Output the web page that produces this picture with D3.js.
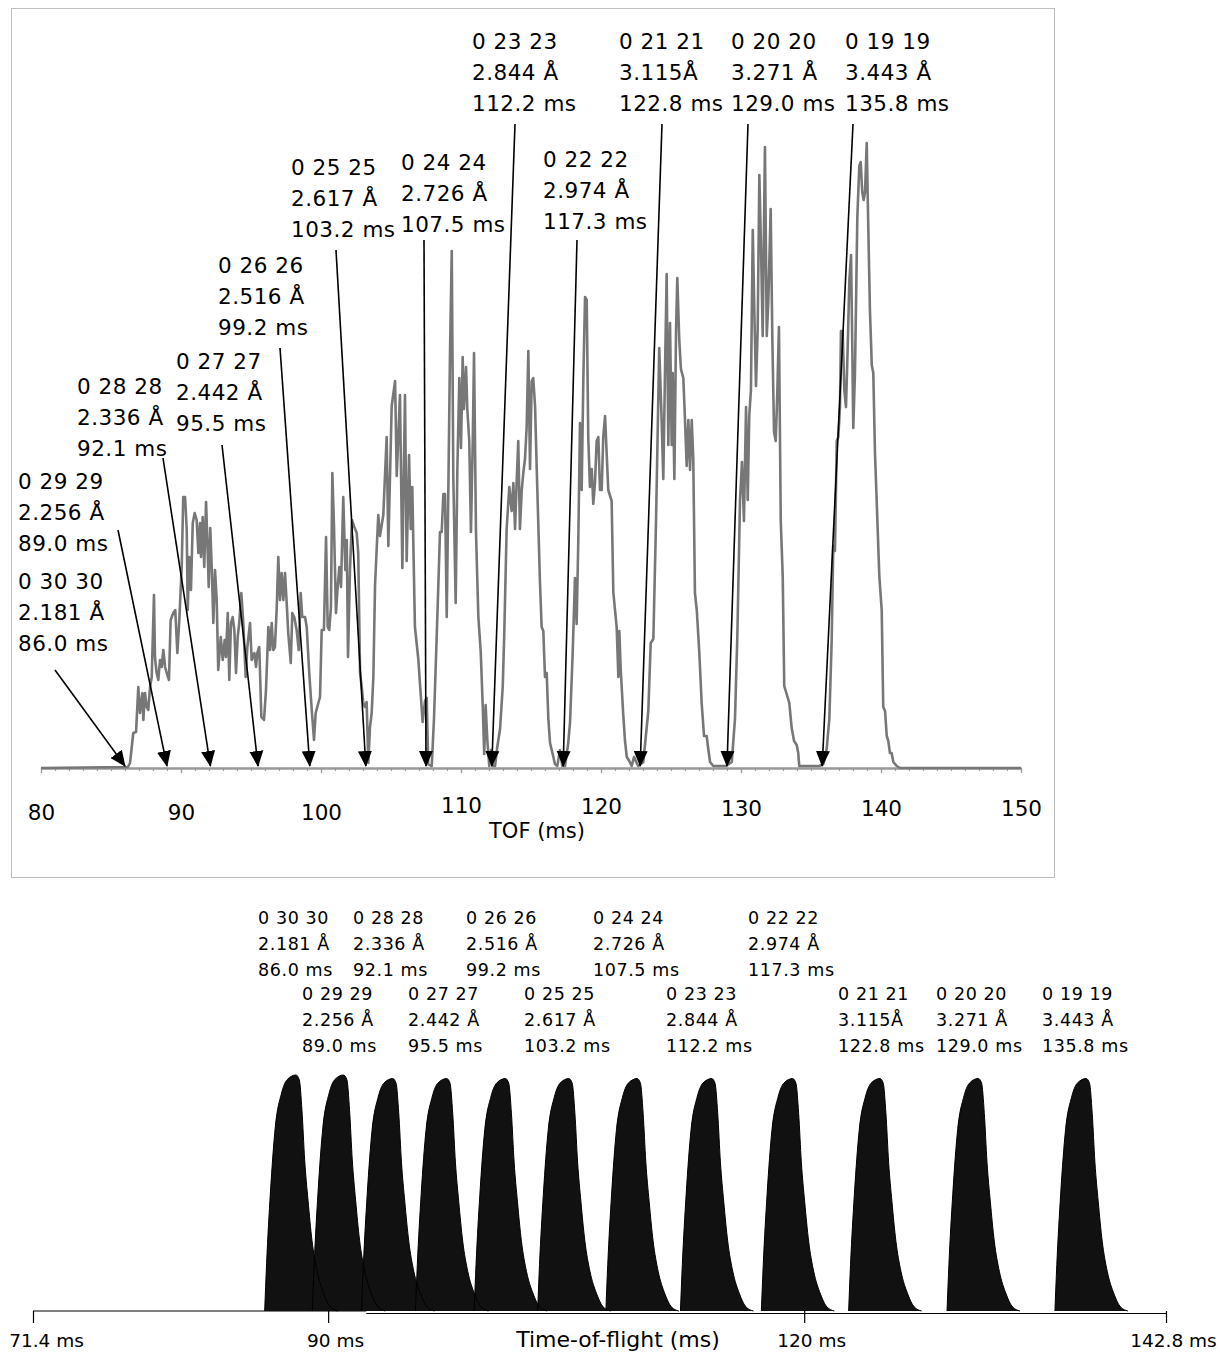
<!DOCTYPE html>
<html>
<head>
<meta charset="utf-8">
<script src="https://cdn.jsdelivr.net/npm/d3@7"></script>
<style>
  html, body { margin: 0; padding: 0; background: #fff; }
  svg { display: block; }
  text { font-family: "DejaVu Sans", "Noto Sans", sans-serif; fill: #000; }
</style>
</head>
<body>
<svg id="chart" width="1220" height="1354"></svg>
<script>
// ---------------- DATA ----------------
const hklLabels = ["0 30 30","0 29 29","0 28 28","0 27 27","0 26 26","0 25 25","0 24 24","0 23 23","0 22 22","0 21 21","0 20 20","0 19 19"];
const dSpacings = ["2.181 Å","2.256 Å","2.336 Å","2.442 Å","2.516 Å","2.617 Å","2.726 Å","2.844 Å","2.974 Å","3.115Å","3.271 Å","3.443 Å"];
const tofPeaks  = [86.0, 89.0, 92.1, 95.5, 99.2, 103.2, 107.5, 112.2, 117.3, 122.8, 129.0, 135.8];

// Top panel: measured TOF trace (ms) and counts (arb. units)
const traceTof = [80.00,86.21,86.36,86.59,86.79,86.95,87.07,87.24,87.31,87.43,87.55,87.66,87.79,87.91,88.07,88.14,88.26,88.38,88.50,88.62,88.74,88.86,88.98,89.14,89.26,89.45,89.59,89.74,89.88,90.05,90.16,90.29,90.41,90.48,90.59,90.71,90.84,90.98,91.12,91.24,91.36,91.43,91.55,91.66,91.79,91.88,91.98,92.09,92.21,92.31,92.43,92.55,92.66,92.84,92.98,93.12,93.21,93.34,93.45,93.57,93.69,93.81,93.93,94.05,94.16,94.31,94.45,94.62,94.74,94.93,95.05,95.24,95.36,95.45,95.59,95.74,95.93,96.07,96.24,
96.36,96.48,96.59,96.71,96.84,96.95,97.07,97.19,97.31,97.43,97.55,97.66,97.84,97.95,98.09,98.26,98.41,98.55,98.66,98.86,98.98,99.16,99.34,99.50,99.62,99.81,99.93,100.05,100.21,100.36,100.48,100.59,100.71,100.81,100.93,101.07,101.19,101.31,101.43,101.59,101.74,101.84,101.93,102.07,102.21,102.38,102.55,102.66,102.79,102.91,103.02,103.14,103.26,103.38,103.50,103.62,103.74,
103.86,104.09,104.21,104.45,104.69,104.81,105.05,105.29,105.41,105.64,105.81,106.00,106.12,106.29,106.41,106.52,106.71,106.95,107.07,107.26,107.43,107.55,107.66,107.91,108.07,108.31,108.50,108.62,108.74,108.86,108.98,109.09,109.21,109.34,109.45,109.62,109.74,109.88,110.00,110.12,110.21,110.36,110.45,110.59,110.71,110.84,110.93,111.07,111.24,111.41,111.55,111.66,111.76,111.88,112.02,112.16,112.26,112.43,
112.59,112.79,112.98,113.09,113.26,113.45,113.62,113.74,113.86,113.98,114.09,114.21,114.34,114.45,114.57,114.69,114.81,114.93,115.05,115.16,115.29,115.41,115.64,115.76,115.88,116.00,116.12,116.24,116.36,116.55,116.71,116.88,117.07,117.24,117.43,117.66,117.79,117.98,118.14,118.26,118.38,118.50,118.62,118.74,118.86,118.98,119.09,119.21,119.34,119.45,119.57,119.69,119.81,119.93,120.05,120.16,120.29,120.41,120.52,120.76,120.88,121.00,121.12,121.24,121.31,121.41,121.59,121.71,121.84,122.02,122.19,122.36,122.55,
122.66,123.02,123.26,123.38,123.55,123.74,123.93,124.16,124.34,124.45,124.57,124.69,124.81,124.93,125.05,125.12,125.24,125.36,125.45,125.59,125.71,125.88,126.00,126.12,126.24,126.36,126.48,126.59,126.71,126.84,127.02,127.19,127.36,127.55,127.66,127.79,128.02,128.50,128.93,129.34,129.57,129.74,129.93,130.07,130.21,130.36,130.48,130.59,130.71,130.84,130.95,131.07,131.19,131.31,131.43,131.55,131.71,131.84,131.95,132.12,132.24,132.36,132.48,132.59,132.71,132.84,132.98,133.09,133.26,133.45,133.62,133.79,133.98,134.09,134.16,135.16,135.59,135.88,136.12,136.31,136.48,136.59,136.71,136.84,136.95,137.07,137.14,137.26,137.38,137.50,137.62,137.74,137.86,137.95,138.02,138.14,138.31,138.45,138.55,138.66,138.76,138.86,138.98,139.09,139.21,139.34,139.45,139.57,139.69,139.88,140.05,140.16,140.29,140.41,140.52,140.64,140.76,140.88,141.12,141.36,150.00];
const traceCounts = [0,1,5,35,36,81,55,75,48,75,61,58,81,91,173,111,95,88,108,101,118,101,95,88,148,155,158,115,148,201,271,271,238,158,211,178,245,255,248,215,245,211,251,201,266,228,181,240,195,145,198,168,98,131,108,128,111,155,88,145,151,138,95,131,145,175,145,91,121,145,108,115,101,115,121,51,48,78,141,
118,145,118,121,161,211,168,195,168,195,165,135,105,155,151,138,118,175,151,151,141,95,58,28,55,65,71,138,138,231,141,138,161,295,241,155,181,201,181,271,198,228,111,198,248,241,235,215,95,81,65,61,66,5,41,55,91,
183,253,232,253,331,222,362,387,292,373,200,373,207,313,239,281,141,109,84,46,67,70,4,2,49,151,236,236,274,274,151,271,411,517,292,165,299,390,320,411,359,401,359,327,236,327,415,236,151,116,63,14,63,28,2,18,2,2,
21,39,81,134,239,281,257,285,239,288,327,239,278,295,309,341,417,299,387,390,362,299,186,141,137,91,95,49,25,14,4,2,18,2,2,25,46,116,190,144,229,345,278,390,471,468,331,281,299,264,285,327,331,278,278,331,352,313,278,267,176,158,141,91,137,98,53,28,11,7,2,11,5,
2,6,40,57,125,129,247,420,344,289,395,494,323,445,323,395,289,437,490,428,399,390,348,302,348,298,348,310,175,158,116,65,32,32,19,6,2,2,2,6,49,133,268,306,247,361,268,352,378,538,458,382,437,593,521,432,621,432,466,559,428,336,327,374,441,247,192,82,74,65,40,27,23,15,2,2,2,4,19,49,129,222,217,327,331,361,437,437,378,361,420,488,513,420,340,395,551,602,606,576,568,576,625,542,458,403,395,315,268,192,158,61,57,32,27,15,15,6,2,0,0];

const topTicks = [80, 90, 100, 110, 120, 130, 140, 150];
const topTickDy = [4, 4, 4, -3, -2, 0, 0, 0];

// Bottom panel: simulated pulse profile (offset from onset in ms, relative height)
const profileDt  = [0, 0.12, 0.36, 0.67, 1.05, 1.41, 1.97, 2.18, 2.35, 2.52, 2.73, 2.98, 3.30, 3.72, 4.14, 4.60];
const profileRel = [0, 0.20, 0.50, 0.78, 0.92, 0.98, 1.00, 0.98, 0.85, 0.64, 0.47, 0.30, 0.17, 0.074, 0.017, 0];
const peakAmp    = [1.0, 1.0, 0.985, 0.985, 0.985, 0.985, 0.985, 0.985, 0.985, 0.985, 0.985, 0.985];
const bottomTicks = [71.4, 90, 120, 142.8];

// ---------------- LAYOUT (annotation placement, px) ----------------
// [label left x, first baseline y, arrow tail x, arrow tail y]
const topLabelPos = [[18,589,55,670],[18,489,118,530],[77,394,163,458],[176,369,222,445],[218,273,280,348],[291,175,336,250],[401,170,424,240],[472,49,515,124],[543,167,577,240],[619,49,662,124],[731,49,748,124],[845,49,853,124]];
const botLabelPos = [[258,924],[302,1000],[353,924],[408,1000],[466,924],[524,1000],[593,924],[666,1000],[748,924],[838,1000],[936,1000],[1042,1000]];

// ---------------- DRAW ----------------
const svg = d3.select("#chart");
const fmt = d3.format(".1f");

// ===== Top panel =====
const xTop = d3.scaleLinear().domain([80, 150]).range([41, 1021]);
const yTop = d3.scaleLinear().domain([0, 625]).range([768, 143]);

svg.append("rect").attr("x", 11.5).attr("y", 8.5).attr("width", 1043).attr("height", 869)
  .attr("fill", "none").attr("stroke", "#bdbdbd").attr("stroke-width", 1);

// minor ticks
const gMinor = svg.append("g").attr("transform", "translate(0,768)")
  .call(d3.axisBottom(xTop).tickValues(d3.range(80, 151, 1)).tickSize(3).tickFormat(""));
gMinor.select(".domain").remove();
gMinor.selectAll("line").attr("stroke", "#9a9a9a").attr("stroke-width", 1.2);

const gMajor = svg.append("g").attr("transform", "translate(0,768)")
  .call(d3.axisBottom(xTop).tickValues(topTicks).tickSize(5).tickPadding(22).tickSizeOuter(0));
gMajor.select(".domain").attr("stroke", "#999").attr("stroke-width", 2.5);
gMajor.selectAll("line").attr("stroke", "#9a9a9a").attr("stroke-width", 1.2);
gMajor.selectAll("text").attr("font-size", 21.5).attr("font-family", "DejaVu Sans")
  .attr("dy", (d, i) => (topTickDy[i] + 21) + "px");

svg.append("text").attr("x", 537).attr("y", 838).attr("text-anchor", "middle")
  .attr("font-size", 21).text("TOF (ms)");

// trace
const lineTop = d3.line().x((d, i) => xTop(traceTof[i])).y((d, i) => yTop(traceCounts[i]));
svg.append("path").datum(traceTof).attr("d", lineTop)
  .attr("fill", "none").attr("stroke", "#777").attr("stroke-width", 2.6).attr("stroke-linejoin", "round");

// arrowhead marker
svg.append("defs").append("marker").attr("id", "ah")
  .attr("markerUnits", "userSpaceOnUse").attr("markerWidth", 16).attr("markerHeight", 16)
  .attr("viewBox", "0 -8 16 16").attr("refX", 15).attr("refY", 0).attr("orient", "auto")
  .append("path").attr("d", "M0,-7L16,0L0,7Z").attr("fill", "#000");

// arrows and labels
tofPeaks.forEach((t, i) => {
  const p = topLabelPos[i];
  svg.append("line").attr("x1", p[2]).attr("y1", p[3]).attr("x2", xTop(t)).attr("y2", 766)
    .attr("stroke", "#000").attr("stroke-width", 1.6).attr("marker-end", "url(#ah)");
  const tx = svg.append("text").attr("x", p[0]).attr("y", p[1]).attr("font-size", 21.5).attr("letter-spacing", "0.5px");
  [hklLabels[i], dSpacings[i], fmt(t) + " ms"].forEach((s, k) => {
    tx.append("tspan").attr("x", p[0]).attr("y", p[1] + k * 31).text(s);
  });
});

// ===== Bottom panel =====
const xBot = d3.scaleLinear().domain([71.4, 142.8]).range([33, 1166]);
const yBot = d3.scaleLinear().domain([0, 1]).range([1311, 1075]);

// baseline (two segments as in the original)
svg.append("line").attr("x1", xBot(71.4)).attr("x2", xBot(92.4)).attr("y1", 1311).attr("y2", 1311)
  .attr("stroke", "#000").attr("stroke-width", 1.2);
svg.append("line").attr("x1", xBot(92.4)).attr("x2", xBot(142.8)).attr("y1", 1313.5).attr("y2", 1313.5)
  .attr("stroke", "#000").attr("stroke-width", 1.2);

const gBot = svg.append("g").attr("transform", "translate(0,1311)")
  .call(d3.axisBottom(xBot).tickValues(bottomTicks).tickSize(12).tickPadding(11).tickSizeOuter(0)
        .tickFormat(d => d + " ms"));
gBot.select(".domain").remove();
gBot.selectAll("line").attr("stroke", "#000").attr("stroke-width", 1.2);
gBot.selectAll("text").attr("font-size", 18.5).attr("font-family", "DejaVu Sans")
  .attr("dx", (d, i) => i === 0 ? "13px" : "7px");

svg.append("text").attr("x", 618).attr("y", 1347).attr("text-anchor", "middle")
  .attr("font-size", 22).text("Time-of-flight (ms)");

const areaBot = d3.area().curve(d3.curveMonotoneX)
  .x(d => xBot(d[0])).y0(yBot(0)).y1(d => yBot(d[1]));
const lineBot = d3.line().curve(d3.curveMonotoneX).x(d => xBot(d[0])).y(d => yBot(d[1]));
const peakData = tofPeaks.map((t, i) => profileDt.map((dt, k) => [t + dt, peakAmp[i] * profileRel[k]]));

svg.append("g").selectAll("path").data(peakData).join("path")
  .attr("d", areaBot).attr("fill", "#111");
svg.append("g").selectAll("path").data(peakData).join("path")
  .attr("d", lineBot).attr("fill", "none").attr("stroke", "#000").attr("stroke-width", 1);

tofPeaks.forEach((t, i) => {
  const p = botLabelPos[i];
  const tx = svg.append("text").attr("x", p[0]).attr("y", p[1]).attr("font-size", 17.5).attr("letter-spacing", "0.6px");
  [hklLabels[i], dSpacings[i], fmt(t) + " ms"].forEach((s, k) => {
    tx.append("tspan").attr("x", p[0]).attr("y", p[1] + k * 26).text(s);
  });
});
</script>
</body>
</html>
